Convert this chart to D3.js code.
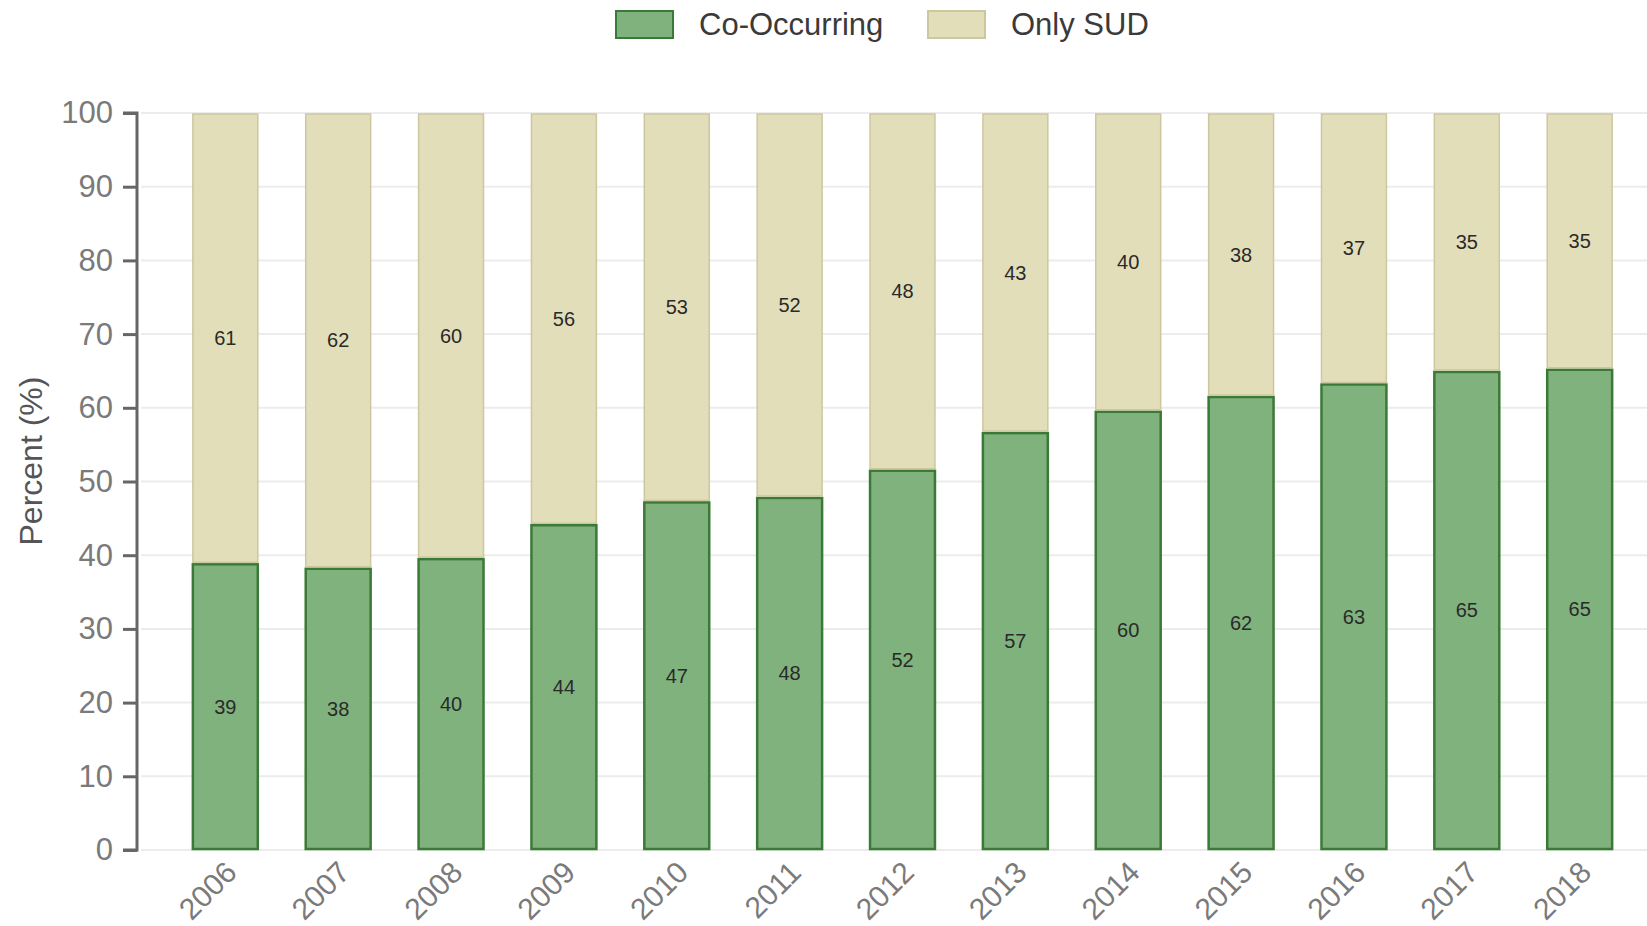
<!DOCTYPE html>
<html>
<head>
<meta charset="utf-8">
<script src="https://cdn.jsdelivr.net/npm/d3@7"></script>
<style>
  html, body { margin: 0; padding: 0; background: #fff; }
  svg { display: block; font-family: "Liberation Sans", Arial, sans-serif; }
</style>
</head>
<body>
<svg id="chart" width="1647" height="926"></svg>
<script>
const years = ["2006","2007","2008","2009","2010","2011","2012","2013","2014","2015","2016","2017","2018"];
const coOccurring = [38.9, 38.3, 39.6, 44.2, 47.3, 47.9, 51.6, 56.7, 59.6, 61.6, 63.3, 65.0, 65.3];
const onlySUD = [61.1, 61.7, 60.4, 55.8, 52.7, 52.1, 48.4, 43.3, 40.4, 38.4, 36.7, 35.0, 34.7];
const seriesNames = ["Co-Occurring", "Only SUD"];
const yTicks = [0, 10, 20, 30, 40, 50, 60, 70, 80, 90, 100];

const fills = ["#80b27d", "#e3deba"];
const strokes = ["#3b7a36", "#cdc79f"];

const svg = d3.select("#chart");
const axisX = 137, yTop = 113, yBottom = 850;

const x = d3.scaleBand().domain(years).range([158, 1647]).paddingInner(0.407).paddingOuter(0.3);
const y = d3.scaleLinear().domain([0, 100]).range([yBottom, yTop]);

// gridlines
svg.append("g").selectAll("line").data(yTicks).join("line")
  .attr("x1", axisX + 4).attr("x2", 1647)
  .attr("y1", d => y(d)).attr("y2", d => y(d))
  .attr("stroke", "#ececec").attr("stroke-width", 2);

// stacked data
const rows = years.map((yr, i) => ({ year: yr, co: coOccurring[i], only: onlySUD[i] }));
const stack = d3.stack().keys(["co", "only"]);
const stacked = stack(rows);

const bars = svg.append("g");
stacked.forEach((layer, li) => {
  bars.append("g").selectAll("rect").data(layer).join("rect")
    .attr("x", d => x(d.data.year) + 1)
    .attr("width", x.bandwidth() - 2)
    .attr("y", d => y(d[1]) + 1)
    .attr("height", d => Math.max(0, y(d[0]) - y(d[1]) - 2))
    .attr("fill", fills[li])
    .attr("stroke", strokes[li])
    .attr("stroke-width", li === 0 ? 2.5 : 1.5);
});

// value labels
stacked.forEach((layer) => {
  svg.append("g").selectAll("text").data(layer).join("text")
    .attr("x", d => x(d.data.year) + x.bandwidth() / 2)
    .attr("y", d => (y(d[0]) + y(d[1])) / 2)
    .attr("text-anchor", "middle")
    .attr("dominant-baseline", "central")
    .attr("font-size", 20)
    .attr("fill", "#2a2a2a")
    .text(d => Math.round(d[1] - d[0]));
});

// y axis
const yAxis = d3.axisLeft(y).tickValues(yTicks).tickSize(14).tickPadding(10).tickFormat(d3.format("d"));
const gy = svg.append("g").attr("transform", `translate(${axisX},0)`).call(yAxis);
gy.select(".domain").attr("stroke", "#666").attr("stroke-width", 3).attr("d", `M-14,${yTop}H0V${yBottom}H-14`);
gy.selectAll(".tick line").attr("stroke", "#666").attr("stroke-width", 3);
gy.selectAll(".tick text").attr("font-size", 31).attr("fill", "#7a7a7a").attr("font-family", "Liberation Sans, Arial, sans-serif");

// x axis
const xAxis = d3.axisBottom(x).tickSize(0).tickPadding(0);
const gx = svg.append("g").attr("transform", `translate(0,${yBottom})`).call(xAxis);
gx.select(".domain").remove();
gx.selectAll(".tick text")
  .attr("font-size", 30).attr("fill", "#7a7a7a").attr("font-family", "Liberation Sans, Arial, sans-serif")
  .attr("text-anchor", "end").attr("dy", null).attr("y", 0)
  .attr("transform", "translate(-2,9) rotate(-45)")
  .attr("dominant-baseline", "hanging");

// y title
svg.append("text")
  .attr("transform", `translate(31,461) rotate(-90)`)
  .attr("text-anchor", "middle").attr("dominant-baseline", "central")
  .attr("font-size", 32).attr("fill", "#555")
  .text("Percent (%)");

// legend
const legendX = [616, 928];
const legend = svg.append("g");
seriesNames.forEach((name, i) => {
  legend.append("rect").attr("x", legendX[i]).attr("y", 11).attr("width", 57).attr("height", 27)
    .attr("fill", fills[i]).attr("stroke", strokes[i]).attr("stroke-width", 2);
  legend.append("text").attr("x", legendX[i] + 83).attr("y", 24)
    .attr("dominant-baseline", "central").attr("font-size", 31).attr("fill", "#3a3a3a")
    .text(name);
});
</script>
</body>
</html>
